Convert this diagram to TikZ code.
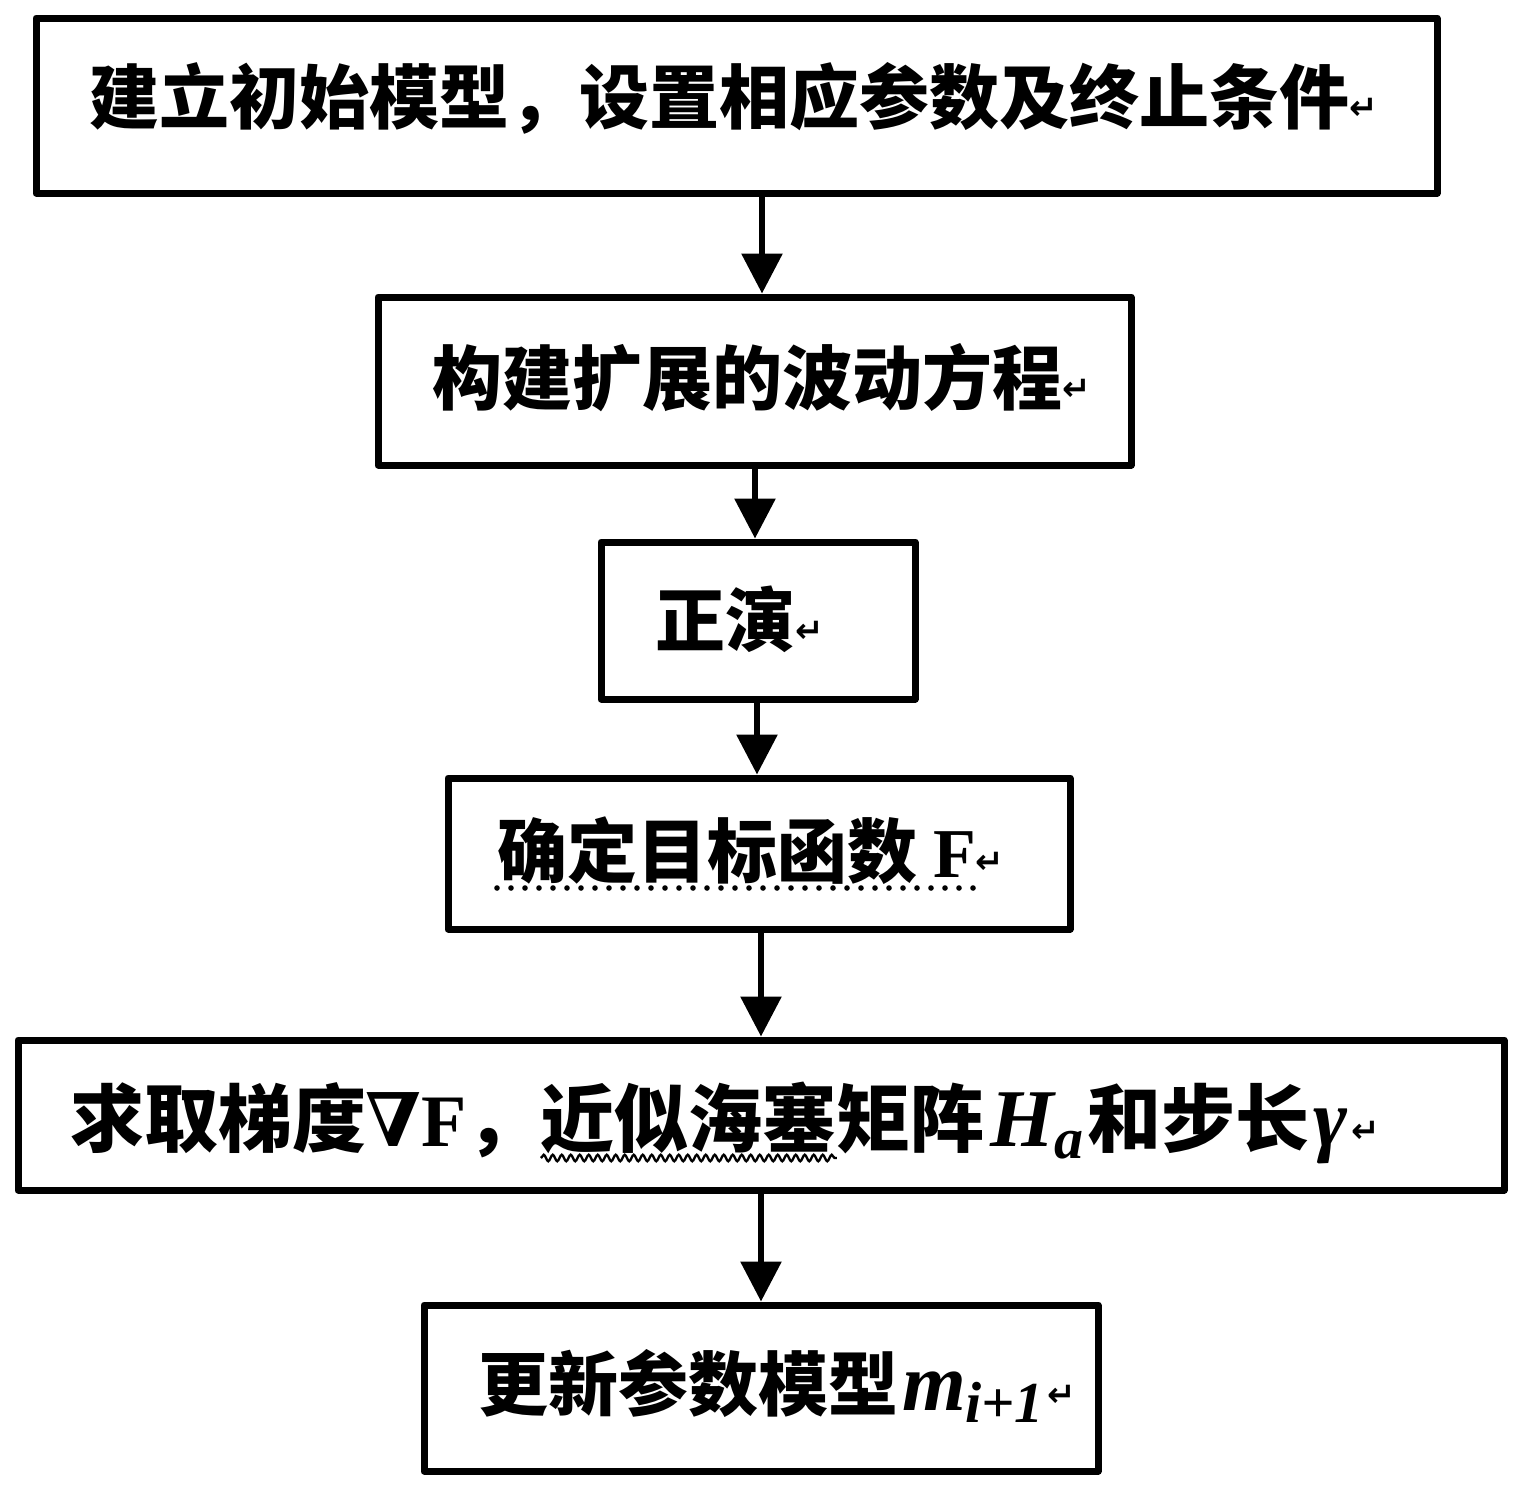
\documentclass[tikz,border=0pt]{standalone}
\usepackage{fontspec}
\newfontfamily\cjk{Noto Sans CJK SC}
\newfontfamily\symf{DejaVu Sans}
\newfontfamily\dvs{DejaVu Serif}
\newfontfamily\lat{Liberation Serif}
\usetikzlibrary{arrows.meta,decorations.pathmorphing}
\newcommand\cjkbig{\cjk\bfseries\fontsize{35pt}{42pt}\selectfont}
\newcommand\cjkwide{\cjk\bfseries\fontsize{37pt}{44pt}\selectfont}
\newcommand\pmk{{\symf\fontsize{17pt}{17pt}\selectfont\raisebox{2pt}{↵}}}
\newcommand\mi[1]{{\lat\bfseries\itshape\fontsize{41pt}{41pt}\selectfont #1}}
\newcommand\msub[1]{\raisebox{-6pt}{\lat\bfseries\itshape\fontsize{29pt}{29pt}\selectfont #1}}
\begin{document}
\begin{tikzpicture}[x=0.5pt,y=-0.5pt,
  box/.style={draw, line width=3.5pt, line join=round, rectangle, inner sep=0pt},
  lbl/.style={inner sep=0pt, outer sep=0pt, anchor=base west, font=\cjkbig},
  lblw/.style={lbl, font=\cjkwide},
  conn/.style={line width=3pt, -{Triangle[width=20pt,length=20pt]}},
  dotline/.style={line width=2.8pt, line cap=round, dash pattern=on 0pt off 7pt},
  wavy/.style={line width=1.2pt, decorate, decoration={snake, amplitude=1.6pt, segment length=4.5pt}}
]
\fill[white] (0,0) rectangle (1522,1489);
\useasboundingbox (0,0) rectangle (1522,1489);

% boxes
\node[box, minimum width=700.5pt, minimum height=87.5pt] (b1) at (736.5,105.5) {};
\node[box, minimum width=376.5pt, minimum height=84pt]   (b2) at (754.5,381) {};
\node[box, minimum width=157pt,   minimum height=78.5pt] (b3) at (758,620.5) {};
\node[box, minimum width=311pt,   minimum height=75.5pt] (b4) at (759,853.5) {};
\node[box, minimum width=743pt,   minimum height=75pt]   (b5) at (761,1115) {};
\node[box, minimum width=337pt,   minimum height=83pt]   (b6) at (761,1388) {};

% texts
\node[lbl] (t1) at (90,123) {建立初始模型，设置相应参数及终止条件\pmk};
\node[lbl] (t2) at (432,404) {构建扩展的波动方程\pmk};
\node[lbl] (t3) at (655,646) {正演\pmk};
\node[lbl] (t4a) at (497,877) {确定目标函数 {\lat\bfseries F}};
\node[lbl] (t4b) at (t4a.base east) {\pmk};
\node[lblw] (t5a) at (70,1146) {求取梯度{\dvs\bfseries ∇}{\lat\bfseries F}，};
\node[lblw] (t5b) at (t5a.base east) {近似海塞};
\node[lblw] (t5c) at (t5b.base east) {矩阵\hspace{3pt}\mi{H}\msub{a}\hspace{2pt}和步长\hspace{2pt}\mi{γ}\hspace{2pt}\pmk};
\node[lbl] (t6) at (478,1410) {更新参数模型\hspace{2pt}\mi{m}\msub{i+1}\hspace{2pt}\pmk};

% spelling / grammar marks
\draw[dotline] ([yshift=-5.5pt]t4a.base west) -- ([yshift=-5.5pt]t4a.base east);
\draw[wavy] ([yshift=-6pt]t5b.base west) -- ([yshift=-6pt]t5b.base east);

% connectors
\coordinate (xa) at (762,0);
\coordinate (xb) at (755,0);
\coordinate (xc) at (757,0);
\coordinate (xd) at (761,0);
\draw[conn] (b1.south -| xa) -- (b2.north -| xa);
\draw[conn] (b2.south -| xb) -- (b3.north -| xb);
\draw[conn] (b3.south -| xc) -- (b4.north -| xc);
\draw[conn] (b4.south -| xd) -- (b5.north -| xd);
\draw[conn] (b5.south -| xd) -- (b6.north -| xd);
\end{tikzpicture}
\end{document}
